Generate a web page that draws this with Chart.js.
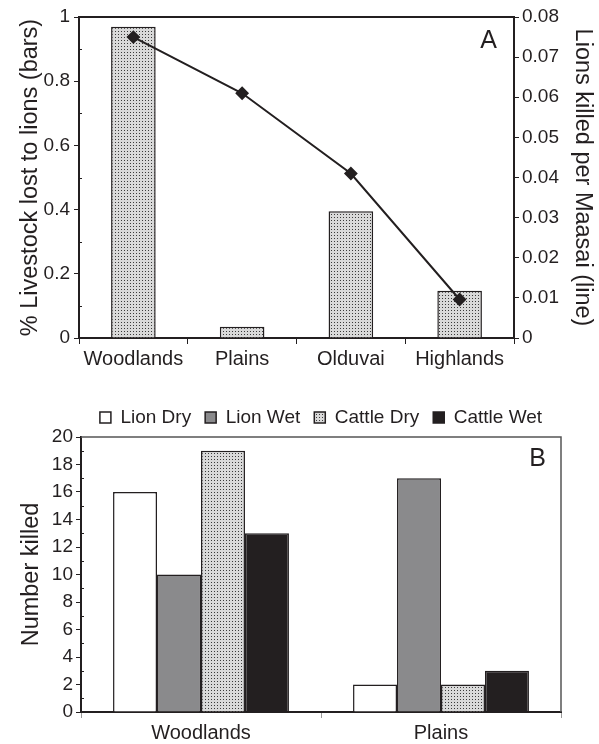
<!DOCTYPE html>
<html>
<head>
<meta charset="utf-8">
<script src="https://cdn.jsdelivr.net/npm/chart.js@4.4.1/dist/chart.umd.min.js"></script>
<style>
  html, body { margin: 0; padding: 0; background: #fff; }
  canvas { position: absolute; left: 0; }
  #chartA { top: 0; }
  #chartB { top: 380px; }
</style>
</head>
<body>
<canvas id="chartA" width="599" height="372"></canvas>
<canvas id="chartB" width="599" height="364"></canvas>
<script>
// panel A data
const regions = ['Woodlands', 'Plains', 'Olduvai', 'Highlands'];
const livestockLost = [0.97, 0.035, 0.395, 0.147];
const lionsPerMaasai = [0.075, 0.061, 0.041, 0.0096];

// panel B data
const sites = ['Woodlands', 'Plains'];
const seriesNames = ['Lion Dry', 'Lion Wet', 'Cattle Dry', 'Cattle Wet'];
const lionDry = [16, 2];
const lionWet = [10, 17];
const cattleDry = [19, 2];
const cattleWet = [13, 3];

const ink = '#231f20';
const fam = '"Liberation Sans", Arial, Helvetica, sans-serif';
Chart.defaults.font.family = fam;
Chart.defaults.color = ink;

function dots(canvas) {
  const tile = document.createElement('canvas');
  tile.width = 3; tile.height = 3;
  const g = tile.getContext('2d');
  g.fillStyle = '#d9d9d9';
  g.fillRect(0, 0, 3, 3);
  g.fillStyle = '#3a3a3a';
  g.fillRect(1, 1, 1, 1);
  return canvas.getContext('2d').createPattern(tile, 'repeat');
}

const num = v => String(Math.round(v * 1000) / 1000);

// top/right frame, minor ticks and panel letter
const frame = {
  id: 'frame',
  afterDraw(chart, args, o) {
    const { ctx, chartArea: a } = chart;
    ctx.save();
    ctx.strokeStyle = o.color;
    ctx.lineWidth = o.width;
    ctx.beginPath();
    ctx.moveTo(a.left, a.top);
    ctx.lineTo(a.right, a.top);
    if (o.right) ctx.lineTo(a.right, a.bottom);
    ctx.stroke();

    const s = chart.scales.y;
    ctx.strokeStyle = ink;
    ctx.lineWidth = 1;
    ctx.beginPath();
    for (let v = o.minor; v < s.max; v += o.minor * 2) {
      const py = Math.round(s.getPixelForValue(v)) + 0.5;
      ctx.moveTo(a.left, py);
      ctx.lineTo(a.left + 3, py);
    }
    ctx.stroke();

    ctx.fillStyle = ink;
    ctx.font = '25px ' + fam;
    ctx.textAlign = 'right';
    ctx.textBaseline = 'alphabetic';
    ctx.fillText(o.letter, a.right - o.dx, a.top + o.dy);
    ctx.restore();
  }
};

const tickFont = { size: 19 };
const catFont = { size: 20 };
const titleFont = { size: 23.5 };

const cA = document.getElementById('chartA');
new Chart(cA, {
  type: 'bar',
  data: {
    labels: regions,
    datasets: [
      {
        type: 'line',
        label: 'Lions killed per Maasai',
        data: lionsPerMaasai,
        yAxisID: 'y1',
        borderColor: ink,
        borderWidth: 2,
        pointStyle: 'rectRot',
        pointRadius: 5.5,
        pointBackgroundColor: ink,
        pointBorderColor: ink,
        order: 0
      },
      {
        label: '% Livestock lost to lions',
        data: livestockLost,
        yAxisID: 'y',
        backgroundColor: dots(cA),
        borderColor: ink,
        borderWidth: 1.5,
        borderSkipped: 'bottom',
        barPercentage: 0.41,
        categoryPercentage: 1,
        order: 1
      }
    ]
  },
  options: {
    responsive: false,
    animation: false,
    devicePixelRatio: 1,
    layout: { padding: { top: 17, left: 0, right: 0, bottom: 0 } },
    plugins: {
      legend: { display: false },
      tooltip: { enabled: false },
      frame: { color: ink, width: 2, right: false, minor: 0.1, letter: 'A', dx: 17, dy: 31 }
    },
    scales: {
      x: {
        grid: { display: true, drawOnChartArea: false, offset: true, tickLength: 6, color: ink },
        border: { color: ink, width: 2 },
        ticks: { font: catFont, color: ink, padding: 3 },
        afterFit(s) { s.height = 34; }
      },
      y: {
        position: 'left',
        min: 0, max: 1,
        ticks: { stepSize: 0.2, autoSkip: false, font: tickFont, color: ink, padding: 4, callback: num },
        grid: { drawOnChartArea: false, tickLength: 5, color: ink },
        border: { color: ink, width: 2 },
        title: { display: true, text: '% Livestock lost to lions (bars)', font: titleFont, color: ink, padding: { top: 16, bottom: 0 } },
        afterFit(s) { s.width = 79; }
      },
      y1: {
        position: 'right',
        min: 0, max: 0.08,
        ticks: { stepSize: 0.01, autoSkip: false, font: tickFont, color: ink, padding: 3, callback: num },
        grid: { drawOnChartArea: false, tickLength: 5, color: ink },
        border: { color: ink, width: 2 },
        title: { display: true, text: 'Lions killed per Maasai (line)', font: titleFont, color: ink, padding: { top: 2, bottom: 0 } },
        afterFit(s) { s.width = 85; }
      }
    }
  },
  plugins: [frame]
});

const cB = document.getElementById('chartB');
const fills = ['#ffffff', '#8a8a8c', dots(cB), ink];
const values = [lionDry, lionWet, cattleDry, cattleWet];
new Chart(cB, {
  type: 'bar',
  data: {
    labels: sites,
    datasets: seriesNames.map((name, i) => ({
      label: name,
      data: values[i],
      backgroundColor: fills[i],
      borderColor: ink,
      borderWidth: 1.5,
      borderSkipped: 'bottom',
      barPercentage: 1,
      categoryPercentage: 0.733
    }))
  },
  options: {
    responsive: false,
    animation: false,
    devicePixelRatio: 1,
    layout: { padding: { top: 14, left: 0, right: 38, bottom: 0 } },
    plugins: {
      legend: {
        position: 'top',
        fullSize: false,
        labels: { boxWidth: 11, boxHeight: 11, font: { size: 19 }, color: ink, padding: 14 }
      },
      tooltip: { enabled: false },
      frame: { color: '#555', width: 1.5, right: true, minor: 1, letter: 'B', dx: 15, dy: 29 }
    },
    scales: {
      x: {
        grid: { display: true, drawOnChartArea: false, offset: true, tickLength: 6, color: '#999' },
        border: { color: ink, width: 2 },
        ticks: { font: catFont, color: ink, padding: 3 },
        afterFit(s) { s.height = 32; }
      },
      y: {
        min: 0, max: 20,
        ticks: { stepSize: 2, autoSkip: false, font: tickFont, color: ink, padding: 3 },
        grid: { drawOnChartArea: false, tickLength: 5, color: ink },
        border: { color: ink, width: 2 },
        title: { display: true, text: 'Number killed', font: titleFont, color: ink, padding: { top: 17, bottom: 0 } },
        afterFit(s) { s.width = 81; }
      }
    }
  },
  plugins: [frame]
});
</script>
</body>
</html>
